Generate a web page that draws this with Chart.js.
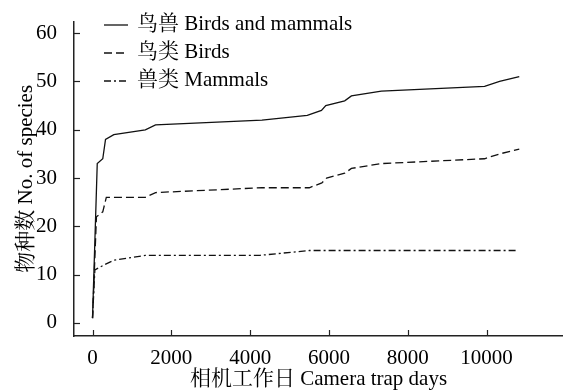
<!DOCTYPE html>
<html>
<head>
<meta charset="utf-8">
<script src="https://cdn.jsdelivr.net/npm/chart.js@4.4.1/dist/chart.umd.min.js"></script>
<style>
    html, body { margin: 0; padding: 0; background: #fff; }
    #caixa { width: 563px; height: 392px; position: relative; }
</style>
</head>
<body>
<div id="caixa"><canvas id="grafico"></canvas></div>
<script>
// --- Dados (dias de câmera x número de espécies) ---
const diasTotal = [0, 120, 260, 330, 540, 1340, 1600, 4300, 5450, 5810, 5920, 6400, 6570, 7330, 9950, 10330, 10830];
const especiesTotal = [1, 33, 34, 38, 39, 40, 41, 42, 43, 44, 45, 46, 47, 48, 49, 50, 51];

const diasAves = [0, 100, 260, 350, 1340, 1600, 4300, 5500, 5820, 5940, 6400, 6570, 7330, 9950, 10330, 10830];
const especiesAves = [1, 22, 23, 26, 26, 27, 28, 28, 29, 30, 31, 32, 33, 34, 35, 36];

const diasMamiferos = [0, 60, 290, 540, 1340, 4250, 5500, 10750];
const especiesMamiferos = [1, 11, 12, 13, 14, 14, 15, 15];

const ticksX = [0, 2000, 4000, 6000, 8000, 10000];
const ticksY = [0, 10, 20, 30, 40, 50, 60];

const rotulos = ['鸟兽 Birds and mammals', '鸟类 Birds', '兽类 Mammals'];

const fonte = "'Liberation Serif', 'Noto Serif CJK SC', 'Noto Sans CJK SC', serif";

// junta x e y em pontos
function pontos(xs, ys) {
    return xs.map((v, i) => ({ x: v, y: ys[i] }));
}

// marcas dos eixos viradas para dentro
const marcasInternas = {
    id: 'marcasInternas',
    afterDraw(chart) {
        const { ctx, chartArea } = chart;
        const x = chart.scales.x, y = chart.scales.y;
        ctx.save();
        ctx.strokeStyle = '#222';
        ctx.lineWidth = 1.2;
        x.ticks.forEach(t => {
            const px = Math.round(x.getPixelForValue(t.value)) + 0.5;
            ctx.beginPath();
            ctx.moveTo(px, chartArea.bottom);
            ctx.lineTo(px, chartArea.bottom - 6);
            ctx.stroke();
        });
        y.ticks.forEach(t => {
            const py = Math.round(y.getPixelForValue(t.value)) + 0.5;
            ctx.beginPath();
            ctx.moveTo(chartArea.left, py);
            ctx.lineTo(chartArea.left + 6, py);
            ctx.stroke();
        });
        ctx.restore();
    }
};

// legenda desenhada à mão (linha + texto)
const legendaLinhas = {
    id: 'legendaLinhas',
    afterDraw(chart) {
        const ctx = chart.ctx;
        ctx.save();
        ctx.font = '21px ' + fonte;
        ctx.fillStyle = '#000';
        ctx.textBaseline = 'middle';
        chart.data.datasets.forEach((ds, i) => {
            const yy = 24 + i * 28;
            ctx.strokeStyle = ds.borderColor;
            ctx.lineWidth = ds.borderWidth;
            ctx.setLineDash(ds.borderDash || []);
            ctx.beginPath();
            ctx.moveTo(104, yy + 1);
            ctx.lineTo(128, yy + 1);
            ctx.stroke();
            ctx.setLineDash([]);
            ctx.fillText(ds.label, 137, yy);
        });
        ctx.restore();
    }
};

const ctx = document.getElementById('grafico').getContext('2d');

const grafico = new Chart(ctx, {
    type: 'line',
    data: {
        datasets: [{
            label: rotulos[0],
            data: pontos(diasTotal, especiesTotal),
            borderColor: '#111',
            borderWidth: 1.3,
            pointRadius: 0,
            tension: 0
        }, {
            label: rotulos[1],
            data: pontos(diasAves, especiesAves),
            borderColor: '#111',
            borderWidth: 1.3,
            borderDash: [8, 4],
            pointRadius: 0,
            tension: 0
        }, {
            label: rotulos[2],
            data: pontos(diasMamiferos, especiesMamiferos),
            borderColor: '#111',
            borderWidth: 1.3,
            borderDash: [7, 3, 2, 3],
            pointRadius: 0,
            tension: 0
        }]
    },
    options: {
        responsive: true,
        maintainAspectRatio: false,
        animation: false,
        layout: { padding: { top: 8, right: 0, left: 0, bottom: 0 } },
        plugins: {
            legend: { display: false },
            tooltip: { enabled: false }
        },
        scales: {
            x: {
                type: 'linear',
                min: -470,
                max: 11940,
                afterBuildTicks: (eixo) => { eixo.ticks = ticksX.map(v => ({ value: v })); },
                afterFit: (eixo) => { eixo.height = 56; },
                grid: { display: false },
                border: { display: true, color: '#222', width: 1.5 },
                ticks: {
                    color: '#000',
                    font: { family: fonte, size: 21 },
                    padding: 2,
                    maxRotation: 0,
                    autoSkip: false,
                    callback: (v) => String(v) // sem separador de milhar
                },
                title: {
                    display: true,
                    text: '相机工作日 Camera trap days',
                    color: '#000',
                    font: { family: fonte, size: 21 },
                    padding: { top: 0, bottom: 0 }
                }
            },
            y: {
                min: -2.7,
                max: 62.4,
                afterBuildTicks: (eixo) => { eixo.ticks = ticksY.map(v => ({ value: v })); },
                afterFit: (eixo) => { eixo.width = 74; },
                grid: { display: false },
                border: { display: true, color: '#222', width: 1.5 },
                ticks: {
                    color: '#000',
                    font: { family: fonte, size: 21 },
                    padding: 9
                },
                title: {
                    display: true,
                    text: '物种数 No. of species',
                    color: '#000',
                    font: { family: fonte, size: 21 },
                    padding: { top: 14, bottom: 0 }
                }
            }
        }
    },
    plugins: [marcasInternas, legendaLinhas]
});
</script>
</body>
</html>
